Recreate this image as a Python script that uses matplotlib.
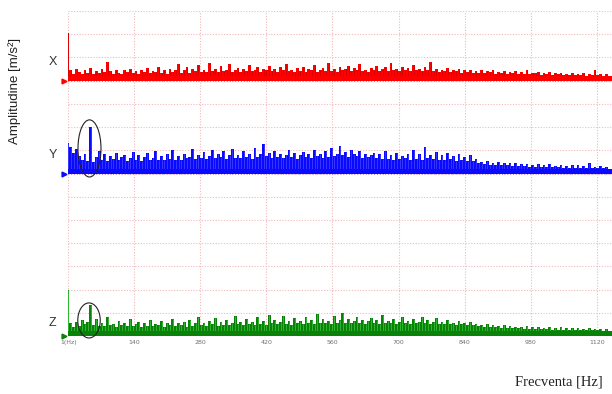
import matplotlib

matplotlib.use("Agg")

import matplotlib.pyplot as plt
import numpy as np
from matplotlib.patches import Ellipse

# spectrum bins, 6 Hz apart
freq_step = 6
n_bins = 192

amp_x = [
    2.05, 0.45, 0.30, 0.52, 0.38, 0.28, 0.48, 0.35, 0.55, 0.30, 0.42, 0.33,
    0.50, 0.36, 0.80, 0.40, 0.30, 0.46, 0.34, 0.28, 0.44, 0.38, 0.52, 0.32,
    0.40, 0.29, 0.48, 0.36, 0.55, 0.31, 0.43, 0.37, 0.60, 0.33, 0.45, 0.30,
    0.52, 0.38, 0.47, 0.72, 0.35, 0.44, 0.58, 0.32, 0.49, 0.40, 0.66, 0.36,
    0.45, 0.38, 0.75, 0.42, 0.50, 0.36, 0.62, 0.40, 0.48, 0.70, 0.39, 0.46,
    0.55, 0.37, 0.50, 0.43, 0.68, 0.40, 0.47, 0.58, 0.36, 0.52, 0.44, 0.63,
    0.41, 0.49, 0.38, 0.57, 0.45, 0.72, 0.40, 0.48, 0.37, 0.55, 0.43, 0.60,
    0.39, 0.50, 0.44, 0.66, 0.38, 0.47, 0.56, 0.41, 0.78, 0.42, 0.51, 0.37,
    0.58, 0.44, 0.49, 0.62, 0.40, 0.53, 0.46, 0.70, 0.42, 0.48, 0.39, 0.55,
    0.45, 0.63, 0.41, 0.50, 0.58, 0.43, 0.75, 0.46, 0.52, 0.40, 0.60, 0.44,
    0.55, 0.42, 0.66, 0.47, 0.52, 0.40, 0.58, 0.45, 0.82, 0.43, 0.50, 0.38,
    0.48, 0.40, 0.55, 0.36, 0.46, 0.42, 0.50, 0.34, 0.44, 0.38, 0.47, 0.33,
    0.40, 0.35, 0.45, 0.31, 0.42, 0.36, 0.48, 0.30, 0.39, 0.34, 0.43, 0.29,
    0.37, 0.32, 0.41, 0.28, 0.36, 0.30, 0.44, 0.27, 0.35, 0.31, 0.38, 0.26,
    0.33, 0.29, 0.36, 0.25, 0.31, 0.27, 0.34, 0.24, 0.30, 0.26, 0.33, 0.23,
    0.30, 0.25, 0.34, 0.22, 0.28, 0.24, 0.45, 0.23, 0.27, 0.22, 0.29, 0.21,
]

amp_y = [
    1.30, 1.15, 0.90, 1.05, 0.75, 0.60, 0.85, 0.55, 2.00, 0.50, 0.70, 0.95,
    0.60, 0.85, 0.55, 0.75, 0.62, 0.90, 0.58, 0.70, 0.80, 0.55, 0.66, 0.92,
    0.60, 0.78, 0.54, 0.70, 0.88, 0.57, 0.66, 0.95, 0.60, 0.74, 0.58, 0.82,
    0.63, 1.00, 0.60, 0.76, 0.58, 0.86, 0.66, 0.72, 1.05, 0.62, 0.80, 0.68,
    0.92, 0.64, 0.75, 1.00, 0.66, 0.84, 0.70, 0.95, 0.62, 0.78, 1.05, 0.68,
    0.80, 0.66, 0.98, 0.72, 0.86, 0.64, 1.10, 0.70, 0.82, 1.25, 0.74, 0.90,
    0.68, 0.95, 0.72, 0.84, 0.66, 0.78, 1.00, 0.70, 0.88, 0.64, 0.80, 0.93,
    0.70, 0.82, 0.66, 1.02, 0.74, 0.86, 0.68, 0.96, 0.72, 1.08, 0.76, 0.84,
    1.20, 0.78, 0.92, 0.70, 1.00, 0.82, 0.74, 0.95, 0.68, 0.86, 0.72, 0.80,
    0.90, 0.66, 0.84, 0.62, 0.96, 0.64, 0.78, 0.60, 0.88, 0.62, 0.76, 0.66,
    0.82, 0.60, 1.02, 0.64, 0.86, 0.58, 1.15, 0.66, 0.80, 0.62, 0.92, 0.60,
    0.78, 0.58, 0.88, 0.62, 0.74, 0.56, 0.84, 0.60, 0.70, 0.55, 0.80, 0.52,
    0.62, 0.44, 0.50, 0.40, 0.52, 0.38, 0.46, 0.36, 0.50, 0.36, 0.44, 0.35,
    0.46, 0.33, 0.44, 0.32, 0.40, 0.31, 0.43, 0.30, 0.38, 0.30, 0.41, 0.29,
    0.36, 0.28, 0.39, 0.27, 0.34, 0.26, 0.37, 0.25, 0.33, 0.25, 0.35, 0.24,
    0.38, 0.24, 0.32, 0.23, 0.45, 0.23, 0.30, 0.22, 0.33, 0.22, 0.29, 0.21,
]

amp_z = [
    2.00, 0.55, 0.40, 0.62, 0.45, 0.70, 0.50, 0.60, 1.35, 0.48, 0.75, 0.42,
    0.58, 0.44, 0.80, 0.46, 0.52, 0.40, 0.66, 0.48, 0.55, 0.42, 0.74, 0.45,
    0.50, 0.60, 0.38, 0.56, 0.44, 0.70, 0.42, 0.52, 0.47, 0.64, 0.40, 0.55,
    0.46, 0.72, 0.42, 0.58, 0.48, 0.62, 0.40, 0.68, 0.45, 0.54, 0.82, 0.46,
    0.56, 0.44, 0.66, 0.50, 0.78, 0.45, 0.60, 0.48, 0.70, 0.46, 0.58, 0.88,
    0.50, 0.62, 0.47, 0.74, 0.52, 0.60, 0.46, 0.84, 0.50, 0.66, 0.48, 0.92,
    0.54, 0.70, 0.50, 0.62, 0.86, 0.52, 0.66, 0.48, 0.76, 0.55, 0.64, 0.50,
    0.80, 0.56, 0.68, 0.52, 0.94, 0.58, 0.72, 0.54, 0.66, 0.50, 0.86, 0.55,
    0.70, 1.00, 0.58, 0.74, 0.54, 0.66, 0.82, 0.56, 0.70, 0.52, 0.64, 0.78,
    0.56, 0.68, 0.52, 0.90, 0.58, 0.64, 0.54, 0.72, 0.50, 0.62, 0.84, 0.55,
    0.66, 0.52, 0.74, 0.56, 0.62, 0.80, 0.54, 0.68, 0.50, 0.60, 0.76, 0.52,
    0.62, 0.50, 0.70, 0.52, 0.58, 0.48, 0.66, 0.50, 0.56, 0.47, 0.60, 0.46,
    0.52, 0.42, 0.48, 0.40, 0.50, 0.38, 0.46, 0.37, 0.44, 0.36, 0.48, 0.35,
    0.42, 0.34, 0.40, 0.33, 0.38, 0.32, 0.41, 0.31, 0.37, 0.30, 0.39, 0.30,
    0.36, 0.29, 0.40, 0.28, 0.34, 0.27, 0.38, 0.27, 0.33, 0.26, 0.35, 0.26,
    0.34, 0.25, 0.31, 0.25, 0.36, 0.24, 0.30, 0.24, 0.32, 0.23, 0.29, 0.23,
]

axis_names = ["X", "Y", "Z"]
baselines = [11, 7, 0]
tick_values = [1, 140, 280, 420, 560, 700, 840, 980, 1120]
tick_labels = ["1(Hz)", "140", "280", "420", "560", "700", "840", "980", "1120"]

freq = np.arange(n_bins) * freq_step

fig = plt.figure(figsize=(6.12, 3.94), dpi=100)
fig.patch.set_facecolor("white")
ax = fig.add_axes([68 / 612, 58 / 394, 544 / 612, 325 / 394])
ax.set_xlim(0, 1152)
ax.set_ylim(0, 14)

# dotted pink grid
grid_kw = dict(color="#f2b8bc", linestyle=(0, (1, 1.5)), linewidth=0.8, zorder=0)
for gy in range(15):
    ax.axhline(gy, **grid_kw)
for gx in tick_values:
    ax.axvline(gx, **grid_kw)

styles = [
    ("#ff0000", "#d00000"),
    ("#0a0aff", "#4848ff"),
    ("#0a820a", "#3fcc3f"),
]

for name, base, amp, (fill_c, line_c) in zip(axis_names, baselines,
                                             [amp_x, amp_y, amp_z], styles):
    amp = np.asarray(amp)
    ax.fill_between(freq, base, base + amp, step="mid", color=fill_c,
                    linewidth=0, zorder=2)
    ax.vlines(freq, base, base + amp, color=line_c, linewidth=0.5, zorder=3)
    ax.fill_between([0, 1152], base, base + 0.2, color=fill_c,
                    linewidth=0, zorder=3)
    ax.plot([-9], [base], marker=">", markersize=3.5, color=fill_c,
            clip_on=False, zorder=4)
    ax.text(-33, base + (0.55 if base == 0 else 0.8), name, fontsize=9,
            color="#333333", ha="center", va="center",
            family="Liberation Sans")

# marked peaks
ax.add_patch(Ellipse((45.5, 8.08), 48.7, 2.46, fill=False,
                     edgecolor="#222222", linewidth=0.8, zorder=5,
                     clip_on=False))
ax.add_patch(Ellipse((44.5, 0.67), 47.6, 1.51, fill=False,
                     edgecolor="#222222", linewidth=0.8, zorder=5,
                     clip_on=False))

ax.set_xticks(tick_values)
ax.set_xticklabels(tick_labels)
ax.set_yticks([])
ax.tick_params(axis="x", length=0, pad=3, labelsize=4.5, labelcolor="#707070")
for spine in ax.spines.values():
    spine.set_visible(False)

fig.text(15 / 612, 1 - 91 / 394, "Amplitudine [m/s²]", rotation=90,
         ha="center", va="center", fontsize=9.5, family="Liberation Sans",
         color="#222222")
fig.text(603 / 612, 1 - 382 / 394, "Frecventa [Hz]", ha="right",
         va="center", fontsize=10.5, family="Liberation Serif",
         color="#222222")

fig.savefig("out.png", dpi=100)
